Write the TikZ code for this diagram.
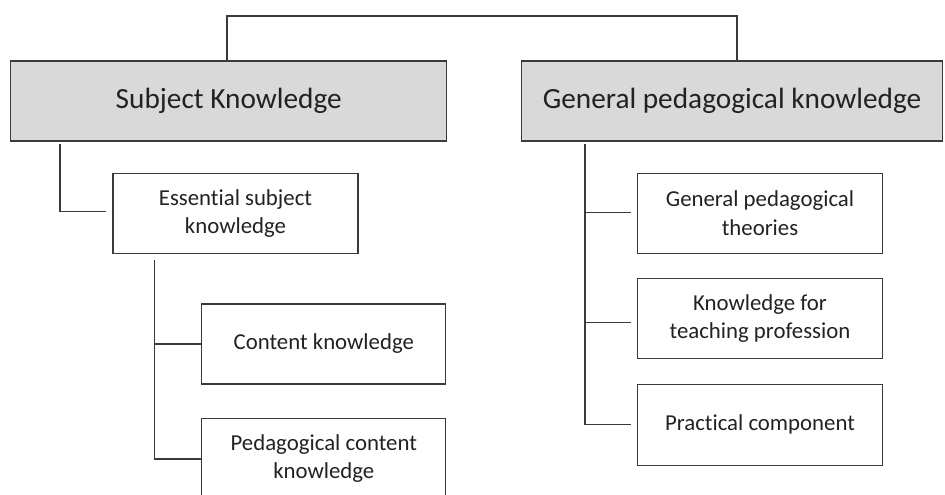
\documentclass[tikz,border=0pt]{standalone}
\usepackage{fontspec}
\setmainfont[Ligatures=CommonOff]{Carlito}
\usetikzlibrary{calc}
\definecolor{boxgray}{HTML}{D9D9D9}
\definecolor{linecol}{HTML}{3A3A3A}
\definecolor{txtcol}{HTML}{222222}
\tikzset{
  every node/.style={text=txtcol},
  bigbox/.style={draw=linecol, line width=1.2pt, fill=boxgray, minimum height=80pt, inner sep=0pt, font=\fontsize{29.3}{34}\selectfont},
  smallbox/.style={draw=linecol, line width=1.2pt, fill=white, minimum width=245pt, minimum height=80pt, inner sep=0pt, align=center, font=\fontsize{22.8}{28.5}\selectfont},
  conn/.style={draw=linecol, line width=1.2pt}
}
\begin{document}
\begin{tikzpicture}[x=1pt,y=-1pt]
\useasboundingbox (0,0) rectangle (945,495);
\fill[white] (0,0) rectangle (945,495);
% main boxes
\node[bigbox, minimum width=436pt] (sk) at (228.7,101) {Subject Knowledge};
\node[bigbox, minimum width=421pt] (gpk) at (732,101) {General pedagogical knowledge};
% left branch
\node[smallbox] (esk) at (235.5,213.3) {Essential subject\\knowledge};
\node[smallbox, minimum width=244pt] (ck) at (323.8,344) {Content knowledge};
\node[smallbox, minimum width=244pt] (pck) at (323.8,458.5) {Pedagogical content\\knowledge};
% right branch
\node[smallbox] (gpt) at (760,213.3) {General pedagogical\\theories};
\node[smallbox] (ktp) at (760,318.7) {Knowledge for\\teaching profession};
\node[smallbox, minimum height=81pt] (pc) at (760,424.8) {Practical component};
% top connector
\coordinate (tl) at (227,16);
\coordinate (tr) at (737,16);
\draw[conn] (tl |- sk.north) -- (tl) -- (tr) -- (tr |- gpk.north);
% Subject Knowledge -> Essential
\coordinate (s1) at (60,144);
\coordinate (s2) at ($(esk.west)+(-6,-1.6)$);
\draw[conn] (s1) |- (s2);
% Essential -> children
\coordinate (e1) at (154.3,260);
\coordinate (e2) at ($(pck.west)+(0,0.5)$);
\draw[conn] (e1) |- (e2);
\draw[conn] (e1 |- ck.west) -- (ck.west);
% General pedagogical -> children
\coordinate (g1) at (585,144);
\coordinate (g2) at (585,424.3);
\draw[conn] (g1) -- (g2) -- ($(pc.west)+(-6,-0.5)$);
\draw[conn] (585,212.3) -- ($(gpt.west)+(-6,-1)$);
\draw[conn] (585,322.3) -- ($(ktp.west)+(-6,3.6)$);
\end{tikzpicture}
\end{document}
